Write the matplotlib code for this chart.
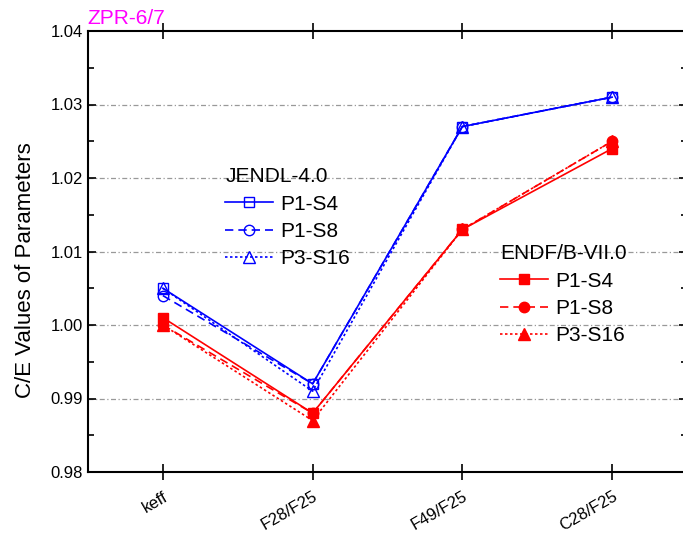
import matplotlib.pyplot as plt
from matplotlib.ticker import MultipleLocator

plt.rcParams['font.family'] = ['Liberation Sans', 'DejaVu Sans']

params = ['keff', 'F28/F25', 'F49/F25', 'C28/F25']

# JENDL-4.0
jendl_p1s4 = [1.005, 0.992, 1.027, 1.031]
jendl_p1s8 = [1.004, 0.992, 1.027, 1.031]
jendl_p3s16 = [1.005, 0.991, 1.027, 1.031]

# ENDF/B-VII.0
endf_p1s4 = [1.001, 0.988, 1.013, 1.024]
endf_p1s8 = [1.000, 0.988, 1.013, 1.025]
endf_p3s16 = [1.000, 0.987, 1.013, 1.025]

labels = ['P1-S4', 'P1-S8', 'P3-S16']

fig = plt.figure(figsize=(6.83, 5.34), dpi=100)
ax = fig.add_axes([88/683, 62/534, 599/683, 441/534])

x = list(range(len(params)))

lw = 1.2
ms = 7.5
b1, = ax.plot(x, jendl_p1s4, color='blue', ls='-', lw=lw, marker='s', ms=ms, mfc='none', mec='blue', mew=1.0)
b2, = ax.plot(x, jendl_p1s8, color='blue', ls=(0, (5, 3)), lw=lw, marker='o', ms=ms, mfc='none', mec='blue', mew=1.0)
b3, = ax.plot(x, jendl_p3s16, color='blue', ls=(0, (1.5, 1.5)), lw=lw, marker='^', ms=ms + 1, mfc='none', mec='blue', mew=1.0)

r1, = ax.plot(x, endf_p1s4, color='red', ls='-', lw=lw, marker='s', ms=ms, mfc='red', mec='red')
r2, = ax.plot(x, endf_p1s8, color='red', ls=(0, (5, 3)), lw=lw, marker='o', ms=ms, mfc='red', mec='red')
r3, = ax.plot(x, endf_p3s16, color='red', ls=(0, (1.5, 1.5)), lw=lw, marker='^', ms=ms + 1, mfc='red', mec='red')

ax.set_xlim(-0.5, 3.5)
ax.set_ylim(0.98, 1.04)
ax.set_xticks(x)
ax.set_xticklabels(params, rotation=30, ha='right', rotation_mode='anchor', fontsize=12)
ax.yaxis.set_major_locator(MultipleLocator(0.01))
ax.yaxis.set_minor_locator(MultipleLocator(0.005))
ax.yaxis.set_major_formatter(plt.FormatStrFormatter('%.2f'))
ax.tick_params(axis='y', labelsize=12)
ax.tick_params(which='both', direction='in', top=True, right=True, width=1.2)
ax.tick_params(which='major', length=6)
ax.tick_params(which='minor', length=4)
ax.tick_params(axis='x', which='major', direction='inout', length=11.5, pad=6.5)
for s in ax.spines.values():
    s.set_linewidth(1.5)

for yv in [0.99, 1.00, 1.01, 1.02, 1.03]:
    ax.axhline(yv, color='#999999', lw=0.9, ls=(0, (4, 2, 1, 2)), zorder=0)

ax.set_ylabel('C/E Values of Parameters', fontsize=16)
ax.yaxis.set_label_coords(-0.087, 0.458)
fig.text(87/683, 1 - 19/534, 'ZPR-6/7', color='magenta', fontsize=15, va='center')

leg_kw = dict(loc='upper left', bbox_transform=fig.transFigure, frameon=False,
              fontsize=15, title_fontsize=15, handlelength=2.3, handletextpad=0.33,
              labelspacing=0.4, borderpad=0.3, borderaxespad=0)
leg1 = ax.legend([b1, b2, b3], labels, title='JENDL-4.0',
                 bbox_to_anchor=(219/683, 1 - 161/534), **leg_kw)
leg1._legend_box.align = 'left'
ax.add_artist(leg1)
leg2 = ax.legend([r1, r2, r3], labels, title='ENDF/B-VII.0',
                 bbox_to_anchor=(494/683, 1 - 238/534), **leg_kw)
leg2._legend_box.align = 'left'

fig.savefig('out.png', dpi=100)
